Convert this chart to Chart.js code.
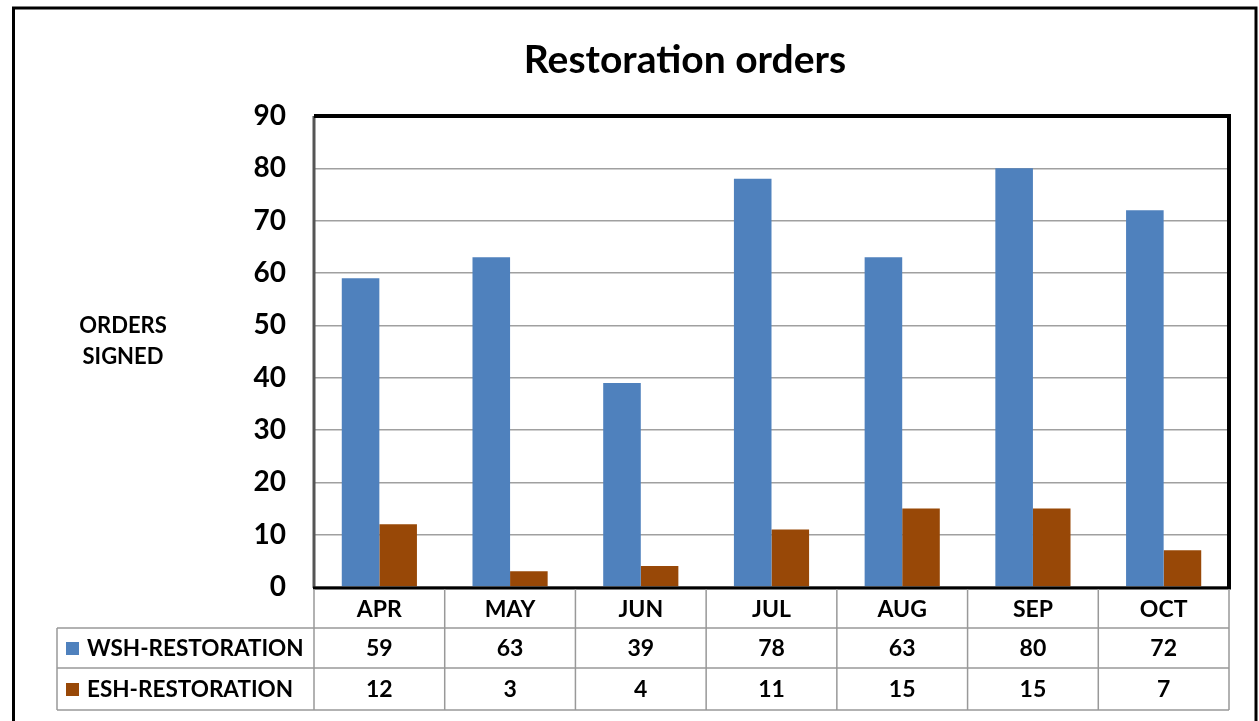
<!DOCTYPE html>
<html>
<head>
<meta charset="utf-8">
<script src="https://cdn.jsdelivr.net/npm/chart.js@4"></script>
<style>
  html, body { margin: 0; padding: 0; background: #fff; }
  #wrap { width: 1259px; height: 721px; }
</style>
</head>
<body>
<div id="wrap"><canvas id="barChart" width="1259" height="721"></canvas></div>
<script>
// data
const months = ['APR', 'MAY', 'JUN', 'JUL', 'AUG', 'SEP', 'OCT'];
const wshValues = [59, 63, 39, 78, 63, 80, 72];
const eshValues = [12, 3, 4, 11, 15, 15, 7];
const seriesNames = ['WSH-RESTORATION', 'ESH-RESTORATION'];
const seriesColors = ['#4F81BD', '#984807'];
const yTicks = [0, 10, 20, 30, 40, 50, 60, 70, 80, 90];

const FONT = 'Lato, "Open Sans", sans-serif';

// frame, title, axis label and data table
var extrasPlugin = {
    id: 'extras',
    afterDraw: function(chart) {
        var ctx = chart.ctx;
        var area = chart.chartArea;
        var x = chart.scales.x;
        ctx.save();

        // outer border
        ctx.strokeStyle = '#000';
        ctx.lineWidth = 3;
        ctx.beginPath();
        ctx.moveTo(13.5, 721);
        ctx.lineTo(13.5, 8);
        ctx.lineTo(1256, 8);
        ctx.lineTo(1256, 721);
        ctx.stroke();

        // title
        ctx.fillStyle = '#000';
        ctx.font = 'bold 39px ' + FONT;
        ctx.textAlign = 'center';
        ctx.textBaseline = 'middle';
        ctx.fillText('Restoration orders', 685, 60);

        // y axis label
        ctx.font = 'bold 22px ' + FONT;
        ctx.fillText('ORDERS', 123, 326);
        ctx.fillText('SIGNED', 123, 357);

        // plot frame
        ctx.strokeStyle = '#555';
        ctx.lineWidth = 3;
        ctx.beginPath();
        ctx.moveTo(area.left, area.bottom + 1);
        ctx.lineTo(area.left, area.top);
        ctx.stroke();
        ctx.strokeStyle = '#000';
        ctx.lineWidth = 4;
        ctx.beginPath();
        ctx.moveTo(area.left, area.top);
        ctx.lineTo(area.right, area.top);
        ctx.lineTo(area.right, area.bottom);
        ctx.stroke();
        ctx.lineWidth = 3;
        ctx.beginPath();
        ctx.moveTo(area.left - 1, area.bottom + 1);
        ctx.lineTo(area.right + 2, area.bottom + 1);
        ctx.stroke();

        // data table
        var step = (area.right - area.left) / months.length;
        var rowTop = [area.bottom + 2, 628, 668, 710];
        var tableLeft = 57;
        ctx.strokeStyle = '#999';
        ctx.lineWidth = 1.5;
        ctx.beginPath();
        for (var i = 0; i <= months.length; i++) {
            var bx = area.left + step * i;
            ctx.moveTo(bx, rowTop[0]);
            ctx.lineTo(bx, rowTop[3]);
        }
        ctx.moveTo(tableLeft, rowTop[1]);
        ctx.lineTo(area.right, rowTop[1]);
        ctx.moveTo(tableLeft, rowTop[2]);
        ctx.lineTo(area.right, rowTop[2]);
        ctx.moveTo(tableLeft, rowTop[3]);
        ctx.lineTo(area.right, rowTop[3]);
        ctx.moveTo(tableLeft, rowTop[1]);
        ctx.lineTo(tableLeft, rowTop[3]);
        ctx.stroke();

        ctx.fillStyle = '#000';
        ctx.font = 'bold 23px ' + FONT;
        ctx.textAlign = 'center';
        var rows = [wshValues, eshValues];
        for (var j = 0; j < months.length; j++) {
            var cx = x.getPixelForValue(j);
            ctx.fillText(months[j], cx, (rowTop[0] + rowTop[1]) / 2 + 1);
            for (var r = 0; r < rows.length; r++) {
                ctx.fillText(String(rows[r][j]), cx, (rowTop[r + 1] + rowTop[r + 2]) / 2 + 1);
            }
        }
        ctx.textAlign = 'left';
        ctx.font = 'bold 22.5px ' + FONT;
        for (var k = 0; k < seriesNames.length; k++) {
            var cy = (rowTop[k + 1] + rowTop[k + 2]) / 2;
            ctx.fillStyle = seriesColors[k];
            ctx.fillRect(66, cy - 6, 13, 13);
            ctx.fillStyle = '#000';
            ctx.fillText(seriesNames[k], 87, cy + 1);
        }
        ctx.restore();
    }
};

var data = {
    labels: months,
    datasets: [{
        label: seriesNames[0],
        data: wshValues,
        backgroundColor: seriesColors[0]
    }, {
        label: seriesNames[1],
        data: eshValues,
        backgroundColor: seriesColors[1]
    }]
};

var options = {
    responsive: false,
    maintainAspectRatio: false,
    animation: false,
    layout: { padding: { top: 116, bottom: 134, right: 30, left: 0 } },
    plugins: {
        legend: { display: false },
        title: { display: false },
        tooltip: { enabled: false }
    },
    datasets: {
        bar: { categoryPercentage: 0.575, barPercentage: 1.0 }
    },
    scales: {
        x: {
            afterFit: function(scale) { scale.height = 0; },
            ticks: { display: false },
            grid: { display: false },
            border: { display: false }
        },
        y: {
            min: 0,
            max: 90,
            afterBuildTicks: function(scale) {
                scale.ticks = yTicks.map(function(v) { return { value: v }; });
            },
            afterFit: function(scale) { scale.width = 314; },
            ticks: {
                color: '#000',
                padding: 28,
                font: { family: FONT, size: 28, weight: 'bold' }
            },
            grid: { color: '#a0a0a0', lineWidth: 1.5, drawTicks: false },
            border: { display: false }
        }
    }
};

var ctx = document.getElementById('barChart').getContext('2d');
var barChart = new Chart(ctx, {
    type: 'bar',
    data: data,
    options: options,
    plugins: [extrasPlugin]
});
</script>
</body>
</html>
